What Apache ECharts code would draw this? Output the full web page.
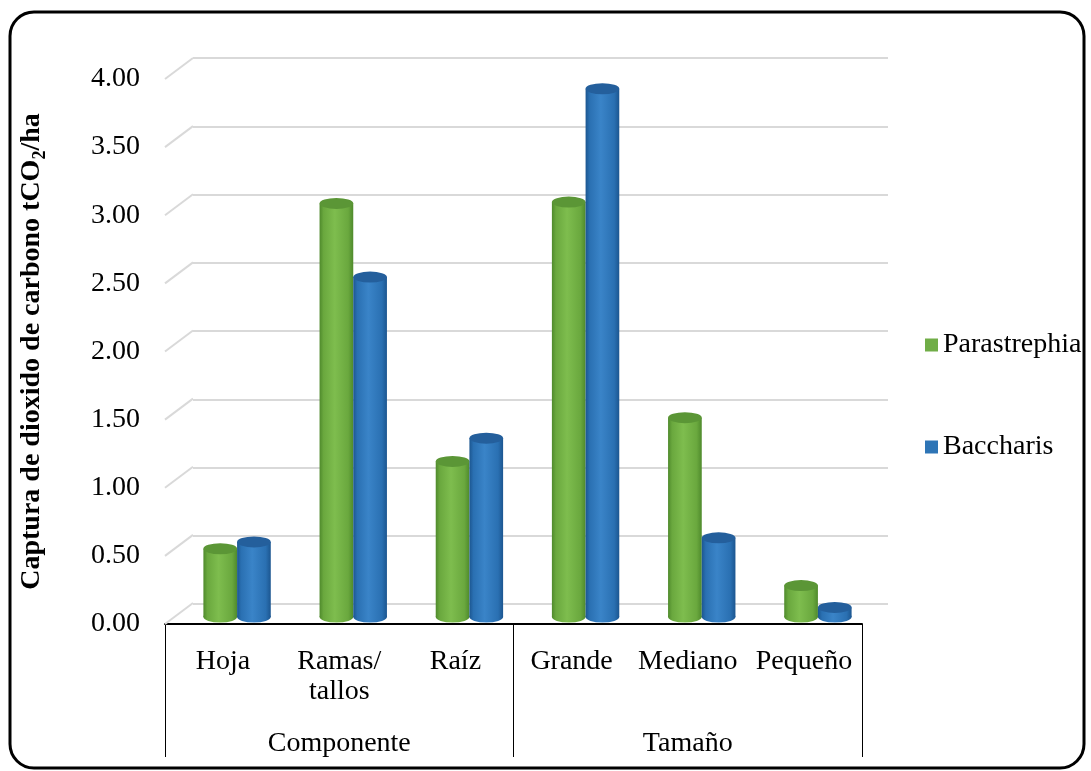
<!DOCTYPE html>
<html>
<head>
<meta charset="utf-8">
<script src="https://cdn.jsdelivr.net/npm/echarts@6/dist/echarts.min.js"></script>
<style>
  html, body { margin: 0; padding: 0; background: #fff; }
  #chart { width: 1091px; height: 771px; }
</style>
</head>
<body>
<div id="chart"></div>
<script>
// Categories, groups and series values (tCO2/ha)
const categories = ['Hoja', 'Ramas/\ntallos', 'Raíz', 'Grande', 'Mediano', 'Pequeño'];
const groups = ['Componente', 'Tamaño'];
const parastrephia = [0.50, 3.03, 1.14, 3.04, 1.46, 0.23];
const baccharis = [0.55, 2.49, 1.31, 3.87, 0.58, 0.07];
const yTicks = [0, 0.5, 1, 1.5, 2, 2.5, 3, 3.5, 4];

const FONT = 'Liberation Serif';
const FS = 28;
const chart = echarts.init(document.getElementById('chart'));

// Horizontal shading gives the bars a cylindrical look
function cylFill(dark, mid, light) {
  return new echarts.graphic.LinearGradient(0, 0, 1, 0, [
    { offset: 0, color: dark },
    { offset: 0.12, color: mid },
    { offset: 0.45, color: light },
    { offset: 0.85, color: mid },
    { offset: 1, color: dark }
  ]);
}

function cylinderSeries(name, values, side, colors) {
  return {
    name: name,
    type: 'custom',
    xAxisIndex: 3,
    yAxisIndex: 2,
    itemStyle: { color: colors.legend },
    data: values.map((v, i) => [i, v]),
    renderItem: function (params, api) {
      const idx = api.value(0);
      const val = api.value(1);
      const band = api.size([1, 0])[0];
      const w = band * 0.29;
      const base = api.coord([idx, 0]);
      const top = api.coord([idx, val]);
      const cx = base[0] + side * w / 2;
      const r = w / 2;
      const ry = 5.5;
      const fill = cylFill(colors.dark, colors.mid, colors.light);
      return {
        type: 'group',
        children: [
          {
            type: 'circle', x: cx, y: base[1], scaleY: ry / r,
            shape: { cx: 0, cy: 0, r: r },
            style: { fill: fill }
          },
          {
            type: 'rect',
            shape: { x: cx - r, y: top[1], width: w, height: base[1] - top[1] },
            style: { fill: fill }
          },
          {
            type: 'circle', x: cx, y: top[1], scaleY: ry / r,
            shape: { cx: 0, cy: 0, r: r },
            style: { fill: colors.top }
          }
        ]
      };
    }
  };
}

const option = {
  backgroundColor: '#fff',
  animation: false,
  graphic: [{
    type: 'rect',
    shape: { x: 10, y: 12, width: 1074, height: 756, r: 24 },
    style: { fill: 'none', stroke: '#000', lineWidth: 3 },
    z: 100
  }],
  legend: {
    orient: 'vertical',
    left: 920,
    top: 324,
    itemWidth: 13,
    itemHeight: 13,
    itemGap: 70,
    icon: 'rect',
    data: ['Parastrephia', 'Baccharis'],
    textStyle: { fontFamily: FONT, fontSize: FS, color: '#000', lineHeight: 32 }
  },
  grid: [
    { left: 165, right: 229, top: 79, bottom: 147 },   // front plane: axes and labels
    { left: 193, right: 203, top: 58, bottom: 167 },   // back wall: gridlines
    { left: 179, right: 215, top: 71, bottom: 154 }    // bars, mid depth
  ],
  xAxis: [
    {
      gridIndex: 0, type: 'category', data: categories,
      axisLine: { lineStyle: { color: '#000', width: 2 } },
      axisTick: { show: false },
      axisLabel: { interval: 0, fontFamily: FONT, fontSize: FS, color: '#000', margin: 23, lineHeight: 30 }
    },
    {
      gridIndex: 0, type: 'category', data: groups, position: 'bottom',
      axisLine: { show: false },
      axisTick: { show: true, length: 133, lineStyle: { color: '#000', width: 1 } },
      axisLabel: { interval: 0, fontFamily: FONT, fontSize: FS, color: '#000', margin: 105, lineHeight: 30 }
    },
    { gridIndex: 1, type: 'category', data: categories, show: false },
    { gridIndex: 2, type: 'category', data: categories, show: false }
  ],
  yAxis: [
    {
      gridIndex: 0, type: 'value', min: 0, max: 4, interval: 0.5,
      axisLine: { show: false }, axisTick: { show: false }, splitLine: { show: false },
      axisLabel: {
        fontFamily: FONT, fontSize: FS, color: '#000', margin: 25,
        padding: [6, 0, 0, 0],
        formatter: v => v.toFixed(2)
      },
      name: '{a|Captura de dioxido de carbono tCO}{s|2}{a|/ha}',
      nameLocation: 'middle',
      nameGap: 116,
      nameTextStyle: {
        rich: {
          a: { fontFamily: FONT, fontSize: FS, fontWeight: 'bold', color: '#000', lineHeight: 34, verticalAlign: 'middle' },
          s: { fontFamily: FONT, fontSize: 18, fontWeight: 'bold', color: '#000', lineHeight: 34, verticalAlign: 'bottom', padding: [16, 0, 0, 0] }
        }
      }
    },
    {
      gridIndex: 1, type: 'value', min: 0, max: 4, interval: 0.5,
      axisLine: { show: false }, axisTick: { show: false }, axisLabel: { show: false },
      splitLine: { show: true, lineStyle: { color: '#d9d9d9', width: 2 } }
    },
    { gridIndex: 2, type: 'value', min: 0, max: 4, interval: 0.5, show: false }
  ],
  series: [
    {
      // slanted side-wall gridlines joining the front plane to the back wall
      type: 'custom',
      xAxisIndex: 0, yAxisIndex: 0,
      silent: true,
      data: yTicks.map(v => [0, v]),
      renderItem: function (params, api) {
        const p = api.coord([0, api.value(1)]);
        const x0 = params.coordSys.x;
        return {
          type: 'line',
          shape: { x1: x0, y1: p[1], x2: x0 + 28, y2: p[1] - 21 },
          style: { stroke: '#d9d9d9', lineWidth: 2 }
        };
      }
    },
    cylinderSeries('Parastrephia', parastrephia, -1,
      { dark: '#4f8a2c', mid: '#6aa83e', light: '#7ebd4e', top: '#5b9636', legend: '#70ad47' }),
    cylinderSeries('Baccharis', baccharis, 1,
      { dark: '#1c5690', mid: '#2a70b2', light: '#3a84c8', top: '#245f9c', legend: '#2e75b6' })
  ]
};

chart.setOption(option);
</script>
</body>
</html>
